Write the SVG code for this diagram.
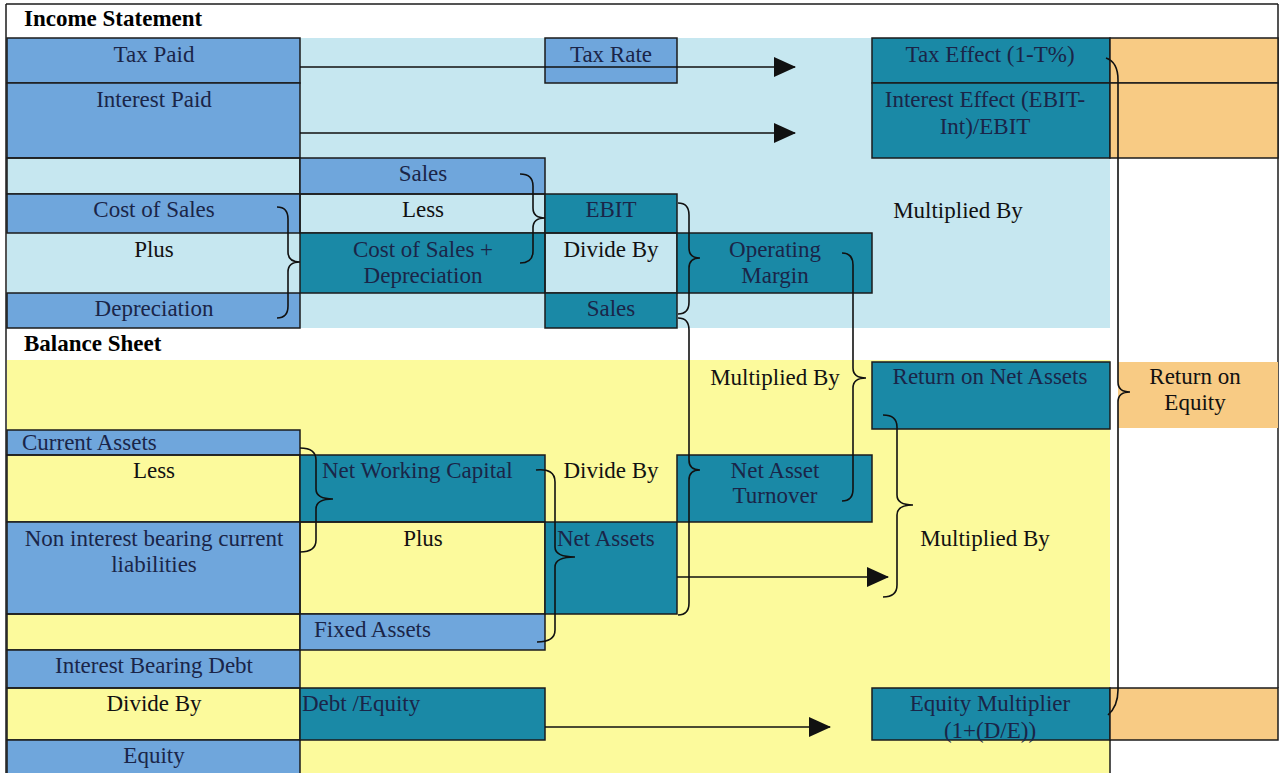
<svg xmlns="http://www.w3.org/2000/svg" width="1281" height="773" viewBox="0 0 1281 773">
<style>
.t{font-family:"Liberation Serif","Times New Roman",serif;font-size:23px;fill:#111;}
.c{text-anchor:middle;}
.n{fill:#1a2548;}
.h{font-weight:bold;fill:#000;}
.bl{fill:#6fa6dc;stroke:#1b1b1b;stroke-width:1.5;}
.tl{fill:#1a89a6;stroke:#1b1b1b;stroke-width:1.5;}
.or{fill:#f8cb84;stroke:#1b1b1b;stroke-width:1.5;}
.ln{stroke:#1b1b1b;stroke-width:1.5;fill:none;}
.br{stroke:#111;stroke-width:1.6;fill:none;}
.ar{stroke:#111;stroke-width:1.6;fill:none;marker-end:url(#ah);}
</style>
<defs>
<marker id="ah" markerWidth="22" markerHeight="20" refX="21" refY="10" orient="auto" markerUnits="userSpaceOnUse" viewBox="0 0 22 20">
<path d="M0,0 L22,10 L0,20 Z" fill="#111"/>
</marker>
</defs>
<rect x="0" y="0" width="1281" height="773" fill="#fff"/>
<g id="backgrounds">
<rect x="7" y="38" width="1103" height="290" fill="#c6e7f0"/>
<rect x="7" y="360" width="1103" height="413" fill="#fcfa9c"/>
<line class="ln" x1="6" y1="4" x2="1278" y2="4"/>
<line class="ln" x1="6" y1="4" x2="6" y2="773"/>
<line class="ln" x1="1278" y1="4" x2="1278" y2="688"/>
<line class="ln" x1="1110" y1="740" x2="1110" y2="773"/>
<text class="t h" x="24" y="26">Income Statement</text>
<text class="t h" x="24" y="351">Balance Sheet</text>
</g>
<g id="tax-paid"><rect class="bl" x="7" y="38" width="293" height="45"/><text class="t c n" x="154" y="62">Tax Paid</text></g>
<g id="interest-paid"><rect class="bl" x="7" y="83" width="293" height="75"/><text class="t c n" x="154" y="107">Interest Paid</text></g>
<g id="row-empty1"><rect x="7" y="158" width="293" height="36" class="ln"/></g>
<g id="cost-of-sales"><rect class="bl" x="7" y="194" width="293" height="39"/><text class="t c n" x="154" y="217">Cost of Sales</text></g>
<g id="plus1"><text class="t c" x="154" y="257">Plus</text></g>
<g id="depreciation"><rect class="bl" x="7" y="293" width="293" height="35"/><text class="t c n" x="154" y="316">Depreciation</text></g>
<g id="tax-rate"><rect class="bl" x="545" y="38" width="132" height="45"/><text class="t c n" x="611" y="62">Tax Rate</text></g>
<g id="sales1"><rect class="bl" x="300" y="158" width="245" height="36"/><text class="t c n" x="423" y="181">Sales</text></g>
<g id="less1"><rect x="300" y="194" width="245" height="39" class="ln"/><text class="t c" x="423" y="217">Less</text></g>
<g id="cos-dep"><rect class="tl" x="300" y="233" width="245" height="60"/><text class="t c n" x="423" y="257">Cost of Sales +</text><text class="t c n" x="423" y="283">Depreciation</text></g>
<g id="ebit"><rect class="tl" x="545" y="194" width="132" height="39"/><text class="t c n" x="611" y="217">EBIT</text></g>
<g id="divide1"><rect x="545" y="233" width="132" height="60" class="ln"/><text class="t c" x="611" y="257">Divide By</text></g>
<g id="sales2"><rect class="tl" x="545" y="293" width="132" height="35"/><text class="t c n" x="611" y="316">Sales</text></g>
<g id="operating-margin"><rect class="tl" x="677" y="233" width="195" height="60"/><text class="t c n" x="775" y="257">Operating</text><text class="t c n" x="775" y="283">Margin</text></g>
<g id="tax-effect"><rect class="tl" x="872" y="38" width="238" height="45"/><text class="t c n" x="990" y="62">Tax Effect (1-T%)</text></g>
<g id="interest-effect"><rect class="tl" x="872" y="83" width="238" height="75"/><text class="t c n" x="985" y="107">Interest Effect (EBIT-</text><text class="t c n" x="985" y="134">Int)/EBIT</text></g>
<g id="orange1"><rect class="or" x="1110" y="38" width="168" height="45"/><rect class="or" x="1110" y="83" width="168" height="75"/></g>
<g id="mult1"><text class="t c" x="958" y="218">Multiplied By</text></g>
<g id="current-assets"><rect class="bl" x="7" y="430" width="293" height="25"/><text class="t n" x="22" y="450">Current Assets</text></g>
<g id="less2"><rect x="7" y="455" width="293" height="67" class="ln"/><text class="t c" x="154" y="478">Less</text></g>
<g id="nibcl"><rect class="bl" x="7" y="522" width="293" height="92"/><text class="t c n" x="154" y="546">Non interest bearing current</text><text class="t c n" x="154" y="572">liabilities</text></g>
<g id="row-empty2"><rect x="7" y="614" width="293" height="36" class="ln"/></g>
<g id="ibd"><rect class="bl" x="7" y="650" width="293" height="38"/><text class="t c n" x="154" y="673">Interest Bearing Debt</text></g>
<g id="divide3"><rect x="7" y="688" width="293" height="52" class="ln"/><text class="t c" x="154" y="711">Divide By</text></g>
<g id="equity"><rect class="bl" x="7" y="740" width="293" height="40"/><text class="t c n" x="154" y="763">Equity</text></g>
<g id="nwc"><rect class="tl" x="300" y="455" width="245" height="67"/><text class="t n" x="322" y="478">Net Working Capital</text></g>
<g id="plus2"><rect x="300" y="522" width="245" height="92" class="ln"/><text class="t c" x="423" y="546">Plus</text></g>
<g id="fixed-assets"><rect class="bl" x="300" y="614" width="245" height="36"/><text class="t n" x="314" y="637">Fixed Assets</text></g>
<g id="debt-equity"><rect class="tl" x="300" y="688" width="245" height="52"/><text class="t n" x="302" y="711">Debt /Equity</text></g>
<g id="divide2"><text class="t c" x="611" y="478">Divide By</text></g>
<g id="net-assets"><rect class="tl" x="545" y="522" width="132" height="92"/><text class="t n" x="557" y="546">Net Assets</text></g>
<g id="net-asset-turnover"><rect class="tl" x="677" y="455" width="195" height="67"/><text class="t c n" x="775" y="478">Net Asset</text><text class="t c n" x="775" y="503">Turnover</text></g>
<g id="mult2"><text class="t c" x="775" y="385">Multiplied By</text></g>
<g id="rona"><rect class="tl" x="872" y="362" width="238" height="67"/><text class="t c n" x="990" y="384">Return on Net Assets</text></g>
<g id="mult3"><text class="t c" x="985" y="546">Multiplied By</text></g>
<g id="roe"><rect x="1118" y="362" width="160" height="66" fill="#f8cb84"/><text class="t c" x="1195" y="384">Return on</text><text class="t c" x="1195" y="410">Equity</text></g>
<g id="equity-multiplier"><rect class="tl" x="872" y="688" width="238" height="52"/><text class="t c n" x="990" y="711">Equity Multiplier</text><text class="t c n" x="990" y="738">(1+(D/E))</text></g>
<g id="orange2"><rect class="or" x="1110" y="688" width="168" height="52"/></g>
<g id="connectors">
<line class="ar" x1="300" y1="67" x2="795" y2="67"/>
<line class="ar" x1="300" y1="133" x2="795" y2="133"/>
<line class="ar" x1="677" y1="577" x2="888" y2="577"/>
<line class="ar" x1="545" y1="727" x2="830" y2="727"/>
<path class="br" d="M520,174 Q533,174 533,186 L533,208 Q533,218 545,218 Q533,218 533,228 L533,251 Q533,263 520,263"/>
<path class="br" d="M277,207 Q288,207 288,219 L288,252 Q288,262 300,262 Q288,262 288,272 L288,306 Q288,318 277,318"/>
<path class="br" d="M678,203 Q689,203 689,215 L689,248 Q689,258 700,258 Q689,258 689,268 L689,302 Q689,314 678,314"/>
<path class="br" d="M842,253 Q853,253 853,265 L853,368 Q853,378 866,378 Q853,378 853,388 L853,489 Q853,501 842,501"/>
<path class="br" d="M678,318 Q689,318 689,330 L689,460 Q689,470 700,470 Q689,470 689,480 L689,603 Q689,615 678,615"/>
<path class="br" d="M536,470 Q555,468 555,482 L555,547 Q555,557 575,557 Q555,557 555,567 L555,630 Q555,642 537,642"/>
<path class="br" d="M300,448 Q316,448 316,460 L316,489 Q316,499 333,499 Q316,499 316,509 L316,540 Q316,552 300,552"/>
<path class="br" d="M883,415 Q897,415 897,427 L897,495 Q897,505 913,505 Q897,505 897,515 L897,585 Q897,597 883,597"/>
<path class="br" d="M1106,58 Q1118,62 1118,80 L1118,382 Q1118,392 1130,392 Q1118,392 1118,402 L1118,690 Q1118,706 1108,715"/>
</g>
</svg>
